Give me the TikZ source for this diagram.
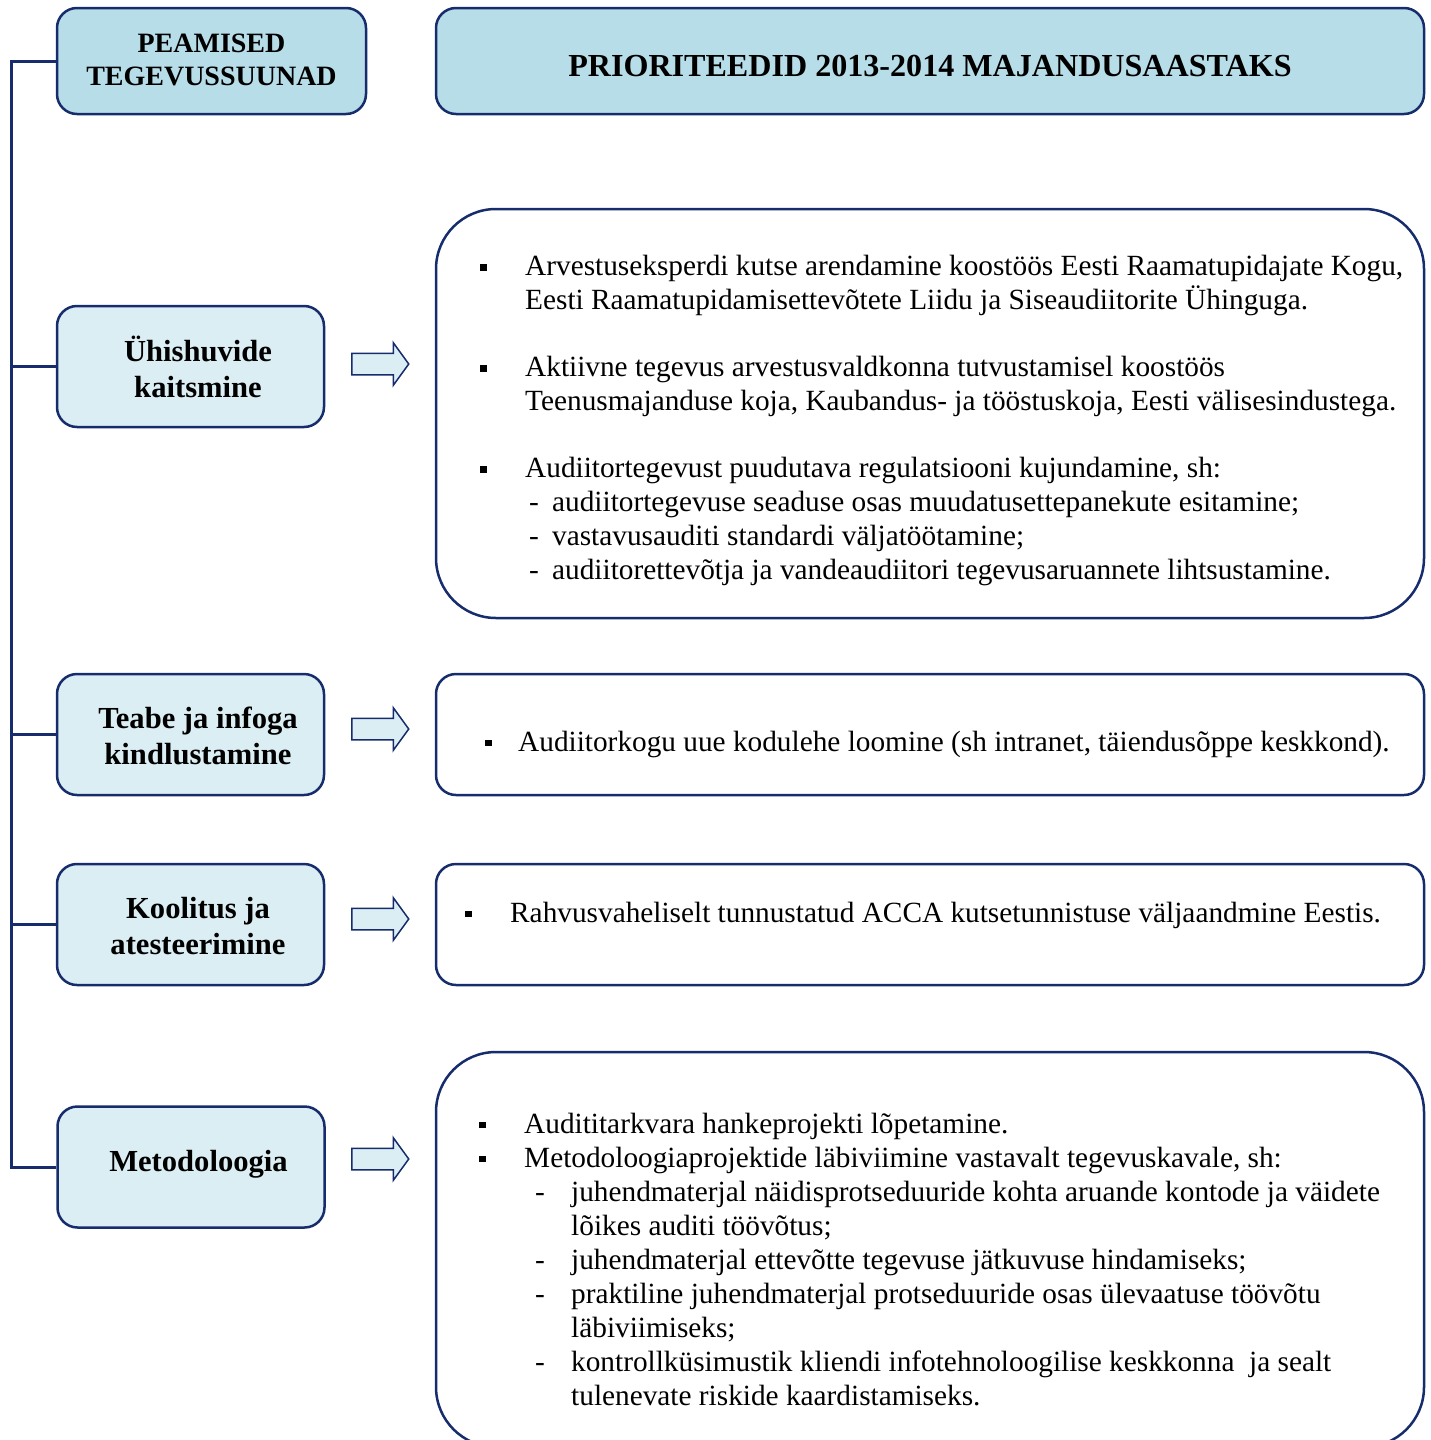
\documentclass[tikz,border=0pt]{standalone}
\usepackage{fontspec}
\setmainfont{Liberation Serif}
\usetikzlibrary{shapes.arrows}
\definecolor{navy}{RGB}{22,44,108}
\definecolor{headFill}{HTML}{B7DEE8}
\definecolor{sideFill}{HTML}{DBEEF3}
\newcommand\bodyfont{\fontsize{29.3}{34}\selectfont}
\newcommand\bul[1][45pt]{\makebox[#1][l]{\raisebox{5pt}{\rule{6.5pt}{6.5pt}}}}
\newcommand\dsh[2]{\hspace*{#1}\makebox[#2][l]{-}}
\newcommand\sh{\hspace*{15pt}}
\newcommand\mv[2]{\raisebox{#1}[\height][\depth]{#2}}
\begin{document}
\begin{tikzpicture}
[x=1pt,y=-1pt,
  lineDecorate/.style={draw=navy,line width=3pt},%
  boxDecorate/.style={draw=navy,line width=2.5pt,rounded corners=20pt,align=center,inner sep=0pt},
  headDecorate/.style={boxDecorate,fill=headFill},
  sideDecorate/.style={boxDecorate,fill=sideFill,minimum width=267pt,minimum height=121pt,
    font=\fontsize{30.6}{36}\selectfont\bfseries},
  itemDecorate/.style={boxDecorate,fill=white,minimum width=988pt},
  textDecorate/.style={anchor=north west,align=left,inner sep=0pt,font=\bodyfont},
  arrowDecorate/.style={single arrow,draw=navy,fill=sideFill,line width=1.5pt,
    minimum height=57pt,single arrow head extend=10.5pt,single arrow head indent=0pt,
    single arrow tip angle=108,inner sep=0pt,text height=10pt,text depth=10pt,anchor=tail}]
\useasboundingbox (0,0) rectangle (1431,1440);
%% headings
\node (peamised) at (211.5,61) [headDecorate,minimum width=309pt,minimum height=106pt,
  font=\fontsize{28}{33}\selectfont\bfseries] {\mv{1pt}{PEAMISED}\\\mv{1pt}{TEGEVUSSUUNAD}};
\node (prio) at (930,61) [headDecorate,minimum width=988pt,minimum height=106pt,
  font=\fontsize{32.1}{38}\selectfont\bfseries] {\mv{-5pt}{PRIORITEEDID 2013-2014 MAJANDUSAASTAKS}};
%% main lines of activity
\node (uhis) at (190.5,366.5) [sideDecorate] {\sh Ühishuvide\\\sh kaitsmine};
\node (teabe) at (190.5,734.5) [sideDecorate] {\sh\mv{-1pt}{Teabe ja infoga}\\\sh\mv{-1pt}{kindlustamine}};
\node (koolitus) at (190.5,924.5) [sideDecorate] {\sh\mv{-2pt}{Koolitus ja}\\\sh\mv{-2pt}{atesteerimine}};
\node (metod) at (191,1167) [sideDecorate] {\sh\mv{3pt}{Metodoloogia}};
%% priority boxes
\node (pri1) at (930,413.5) [itemDecorate,minimum height=409pt,rounded corners=60pt] {};
\node (pri2) at (930,734.5) [itemDecorate,minimum height=121pt] {};
\node (pri3) at (930,924.5) [itemDecorate,minimum height=121pt] {};
\node (pri4) at (930,1249.5) [itemDecorate,minimum height=395pt,rounded corners=60pt] {};
%% arrows
\foreach \name/\y in {arr1/364, arr2/729, arr3/919, arr4/1159}
{
  \node (\name) at (351,\y) [arrowDecorate] {};
}
%% texts
\node (txt1) at (480,251.5) [textDecorate] {\strut\bul Arvestuseksperdi kutse arendamine koostöös Eesti Raamatupidajate Kogu,\\
\hspace*{45pt}Eesti Raamatupidamisettevõtete Liidu ja Siseaudiitorite Ühinguga.\\[33pt]
\bul Aktiivne tegevus arvestusvaldkonna tutvustamisel koostöös\\
\hspace*{45pt}Teenusmajanduse koja, Kaubandus- ja tööstuskoja, Eesti välisesindustega.\\[33pt]
\bul Audiitortegevust puudutava regulatsiooni kujundamine, sh:\\
\dsh{49pt}{23pt}audiitortegevuse seaduse osas muudatusettepanekute esitamine;\\
\dsh{49pt}{23pt}vastavusauditi standardi väljatöötamine;\\
\dsh{49pt}{23pt}audiitorettevõtja ja vandeaudiitori tegevusaruannete lihtsustamine.};
\node (txt2) at (485,727) [textDecorate] {\strut\bul[33pt]Audiitorkogu uue kodulehe loomine (sh intranet, täiendusõppe keskkond).};
\node (txt3) at (465,898) [textDecorate] {\strut\bul Rahvusvaheliselt tunnustatud ACCA kutsetunnistuse väljaandmine Eestis.};
\node (txt4) at (479,1109) [textDecorate] {\strut\bul Audititarkvara hankeprojekti lõpetamine.\\
\bul Metodoloogiaprojektide läbiviimine vastavalt tegevuskavale, sh:\\
\dsh{56pt}{36pt}juhendmaterjal näidisprotseduuride kohta aruande kontode ja väidete\\
\hspace*{92pt}lõikes auditi töövõtus;\\
\dsh{56pt}{36pt}juhendmaterjal ettevõtte tegevuse jätkuvuse hindamiseks;\\
\dsh{56pt}{36pt}praktiline juhendmaterjal protseduuride osas ülevaatuse töövõtu\\
\hspace*{92pt}läbiviimiseks;\\
\dsh{56pt}{36pt}kontrollküsimustik kliendi infotehnoloogilise keskkonna\ \ ja sealt\\
\hspace*{92pt}tulenevate riskide kaardistamiseks.};
%% spine
\coordinate (top) at (11,61);
\coordinate (bot) at (11,1167);
\draw[lineDecorate] (peamised.west) -- (top) -- (bot) -- (metod.west);
\foreach \nodename in {uhis, teabe, koolitus}
{
  \draw[lineDecorate] (top |- \nodename.west) -- (\nodename.west);
}
\end{tikzpicture}
\end{document}
